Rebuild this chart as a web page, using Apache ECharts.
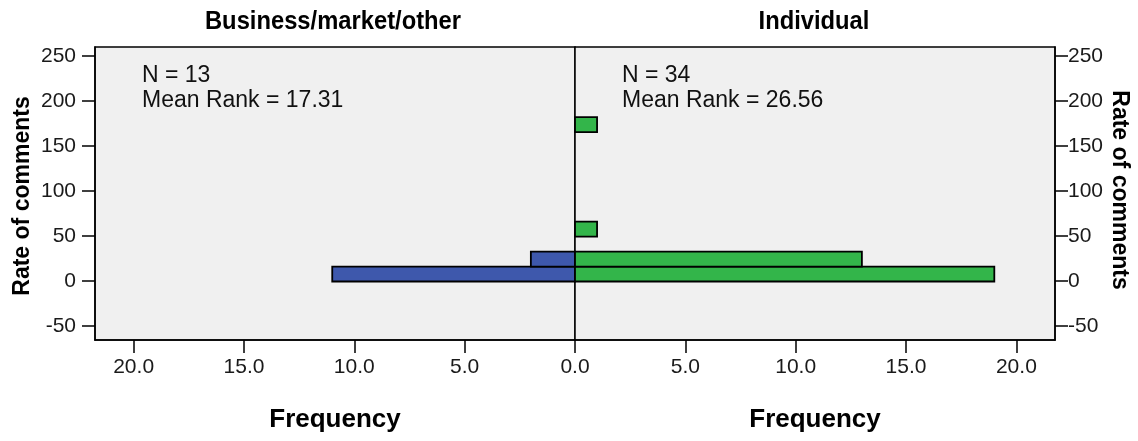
<!DOCTYPE html>
<html>
<head>
<meta charset="utf-8">
<title>Rate of comments - frequency</title>
<script src="https://cdn.jsdelivr.net/npm/echarts@6/dist/echarts.min.js"></script>
<style>
  html, body { margin: 0; padding: 0; background: #ffffff; }
  #chartEl { width: 1138px; height: 441px; }
</style>
</head>
<body>
<div id="chartEl"></div>
<script>
// 分组名称
const groupNames = ["Business/market/other", "Individual"]
// 直方图分箱 (Rate of comments)
const binStarts = [-0.5, 16.1, 49.3, 165.5]
const binEnds = [16.1, 32.7, 65.9, 182.1]
// 各组频数
const businessFreq = [11, 2, 0, 0]
const individualFreq = [19, 13, 1, 1]
// 注释
const groupN = [13, 34]
const meanRanks = ["17.31", "26.56"]
// 刻度
const rateTicks = [-50, 0, 50, 100, 150, 200, 250]

const blue = "#3e58ac"
const green = "#33b54a"
const labelFont = '"Liberation Sans", Arial, sans-serif'

let chart = echarts.init(document.getElementById("chartEl"), null, { renderer: "canvas" })

// 柱子绘制
const renderBar = (color) => (params, api) => {
  let p0 = api.coord([0, api.value(1)])
  let p1 = api.coord([api.value(0), api.value(2)])
  return {
    type: "rect",
    shape: {
      x: Math.min(p0[0], p1[0]),
      y: Math.min(p0[1], p1[1]),
      width: Math.abs(p1[0] - p0[0]),
      height: Math.abs(p1[1] - p0[1])
    },
    style: { fill: color, stroke: "#000", lineWidth: 1.8 }
  }
}

const toBars = (freq) =>
  freq.map((f, i) => [f, binStarts[i], binEnds[i]]).filter((d) => d[0] > 0)

const xAxisBase = (inverse, hideZero) => ({
  type: "value",
  min: 0,
  max: 21.75,
  interval: 5,
  inverse: inverse,
  splitLine: { show: false },
  axisLine: { show: true, onZero: false, lineStyle: { color: "#000", width: 1.5 } },
  axisTick: { show: true, length: 13, lineStyle: { color: "#000", width: 1.5 } },
  axisLabel: {
    margin: 17,
    fontSize: 21,
    color: "#1a1a1a",
    fontFamily: labelFont,
    showMinLabel: !hideZero,
    showMaxLabel: false,
    formatter: (v) => v.toFixed(1)
  }
})

const yAxisBase = (pos, margin) => ({
  type: "value",
  position: pos,
  min: -65.5,
  max: 260,
  splitLine: { show: false },
  axisLine: { show: true, onZero: false, lineStyle: { color: "#000", width: 1.5 } },
  axisTick: { show: true, length: 13, customValues: rateTicks, lineStyle: { color: "#000", width: 1.5 } },
  axisLabel: {
    margin: margin,
    fontSize: 21,
    color: "#1a1a1a",
    fontFamily: labelFont,
    customValues: rateTicks
  }
})

const boldText = (text, x, y, size, rotation, scaleX) => ({
  type: "text",
  x: x,
  y: y,
  rotation: rotation || 0,
  scaleX: scaleX || 1,
  style: {
    text: text,
    fontSize: size,
    fontWeight: "bold",
    fontFamily: labelFont,
    fill: "#000",
    align: "center",
    verticalAlign: "middle"
  }
})

const noteText = (i, x) => ({
  type: "text",
  x: x,
  y: 63,
  style: {
    text: "N = " + groupN[i] + "\nMean Rank = " + meanRanks[i],
    fontSize: 23,
    lineHeight: 25,
    fontFamily: labelFont,
    fill: "#111",
    align: "left",
    verticalAlign: "top"
  }
})

let option = {
  backgroundColor: "#ffffff",
  animation: false,
  grid: [
    { left: 95, top: 47, width: 480, height: 293, show: true, backgroundColor: "#f0f0f0", borderColor: "#000", borderWidth: 1.5 },
    { left: 575, top: 47, width: 480, height: 293, show: true, backgroundColor: "#f0f0f0", borderColor: "#000", borderWidth: 1.5 }
  ],
  xAxis: [
    Object.assign(xAxisBase(true, false), { gridIndex: 0 }),
    Object.assign(xAxisBase(false, true), { gridIndex: 1 })
  ],
  yAxis: [
    Object.assign(yAxisBase("left", 19), { gridIndex: 0 }),
    Object.assign(yAxisBase("right", 13), { gridIndex: 1 })
  ],
  series: [
    {
      name: groupNames[0],
      type: "custom",
      xAxisIndex: 0,
      yAxisIndex: 0,
      renderItem: renderBar(blue),
      encode: { x: 0, y: [1, 2] },
      data: toBars(businessFreq)
    },
    {
      name: groupNames[1],
      type: "custom",
      xAxisIndex: 1,
      yAxisIndex: 1,
      renderItem: renderBar(green),
      encode: { x: 0, y: [1, 2] },
      data: toBars(individualFreq)
    }
  ],
  graphic: [
    // 分组标题 (略窄)
    boldText(groupNames[0], 333, 22, 25, 0, 0.95),
    boldText(groupNames[1], 814, 22, 25, 0, 0.95),
    // 轴标题
    boldText("Rate of comments", 23, 196, 23, Math.PI / 2),
    boldText("Rate of comments", 1119, 190, 23, -Math.PI / 2),
    boldText("Frequency", 335, 420, 26),
    boldText("Frequency", 815, 420, 26),
    // 注释
    noteText(0, 142),
    noteText(1, 622)
  ]
}

chart.setOption(option)
</script>
</body>
</html>
